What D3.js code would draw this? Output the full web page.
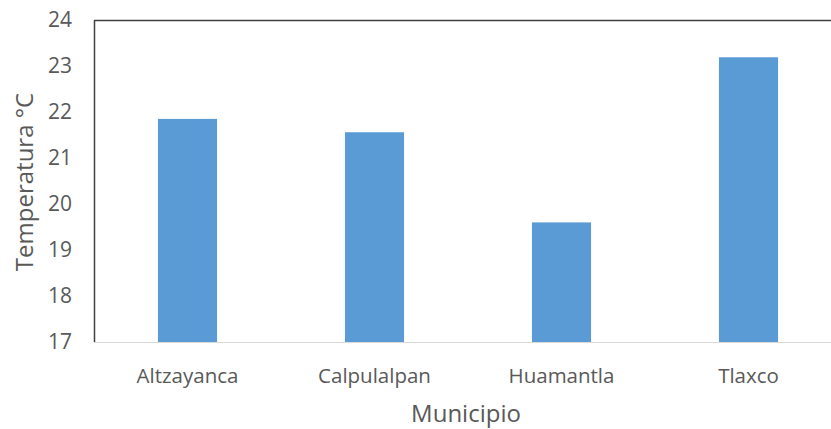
<!DOCTYPE html>
<html><head><meta charset="utf-8">
<script src="https://cdn.jsdelivr.net/npm/d3@7"></script>
<style>body{margin:0;background:#fff}svg{display:block}</style>
</head><body>
<svg id="c" width="831" height="429"></svg>
<script>
const categories = ["Altzayanca", "Calpulalpan", "Huamantla", "Tlaxco"];
const values = [21.85, 21.56, 19.60, 23.19];
const yTicks = [17, 18, 19, 20, 21, 22, 23, 24];

(function () {
const svg = d3.select("#c");
const font = "'Open Sans', sans-serif";
const pLeft = 94, pRight = 842, pTop = 20, pBottom = 342;
const x = d3.scaleBand().domain(categories).range([pLeft, pRight]).paddingInner(0.684).paddingOuter(0.342);
const y = d3.scaleLinear().domain([17, 24]).range([pBottom, pTop]);

svg.append("g").selectAll("rect").data(categories).join("rect")
  .attr("x", d => x(d)).attr("width", x.bandwidth())
  .attr("y", (d, i) => y(values[i])).attr("height", (d, i) => pBottom - y(values[i]))
  .attr("fill", "#5b9bd5");

svg.append("line").attr("x1", pLeft).attr("x2", 831).attr("y1", pBottom + 0.5).attr("y2", pBottom + 0.5).attr("stroke", "#d9d9d9").attr("stroke-width", 1);
svg.append("line").attr("x1", pLeft).attr("x2", 831).attr("y1", pTop + 0.5).attr("y2", pTop + 0.5).attr("stroke", "#404040").attr("stroke-width", 1.5);
svg.append("line").attr("x1", pLeft + 0.5).attr("x2", pLeft + 0.5).attr("y1", pTop).attr("y2", pBottom).attr("stroke", "#404040").attr("stroke-width", 1.5);

const yAxis = d3.axisLeft(y).tickValues(yTicks).tickSize(0).tickPadding(22).tickFormat(d3.format("d"));
const gy = svg.append("g").attr("transform", `translate(${pLeft},0)`).call(yAxis);
gy.select(".domain").remove();
gy.selectAll("text").attr("font-family", font).attr("font-size", 21).attr("fill", "#595959");

const xAxis = d3.axisBottom(x).tickSize(0).tickPadding(26);
const gx = svg.append("g").attr("transform", `translate(0,${pBottom})`).call(xAxis);
gx.select(".domain").remove();
gx.selectAll("text").attr("font-family", font).attr("font-size", 20.5).attr("fill", "#595959");

svg.append("text").attr("x", 466).attr("y", 422).attr("text-anchor", "middle")
  .attr("font-family", font).attr("font-size", 24).attr("fill", "#595959").text("Municipio");
svg.append("text").attr("transform", "translate(33,182) rotate(-90)").attr("text-anchor", "middle")
  .attr("font-family", font).attr("font-size", 24).attr("fill", "#595959").text("Temperatura °C");
})();
</script>
</body></html>
